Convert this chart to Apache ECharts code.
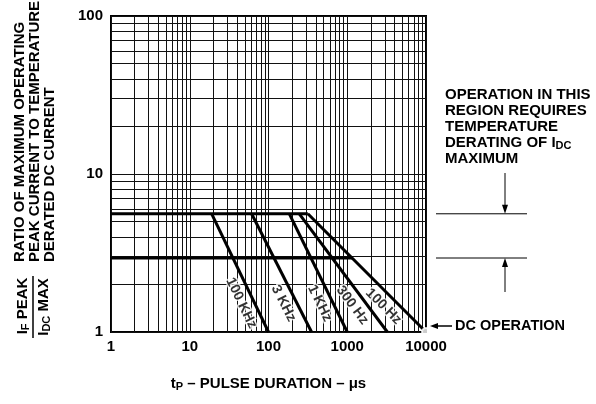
<!DOCTYPE html>
<html>
<head>
<meta charset="utf-8">
<script src="https://cdn.jsdelivr.net/npm/echarts@6/dist/echarts.min.js"></script>
<style>
  html, body { margin: 0; padding: 0; background: #fff; }
  #chart { width: 596px; height: 404px; }
</style>
</head>
<body>
<div id="chart"></div>
<script>
// peak / DC current ratio against pulse duration, one derating line per rep rate
const freqNames = ['100 KHz', '3 KHz', '1 KHz', '300 Hz', '100 Hz'];
const kneeTime = [19, 61, 184, 246, 316];       // us, line leaves the plateau
const endTime = [100, 352, 1000, 3230, 10000];  // us, ratio back down to 1
const ratioMax = 5.6;        // upper plateau
const ratioDerated = 2.94;   // lower plateau
const deratedEnd = 1150;     // where the lower plateau meets the 100 Hz line
const ratioMin = 1;
const xTicks = [1, 10, 100, 1000, 10000];
const yTicks = [1, 10, 100];

const FONT = 'Liberation Sans';

// log paper: every 1..9 step in each decade
function logGrid(ticks) {
  let out = [];
  ticks.forEach(function (t, i) {
    out.push(t);
    if (i < ticks.length - 1) {
      for (let k = 2; k < 10; k++) out.push(t * k);
    }
  });
  return out;
}
const gridLines = logGrid(xTicks).map(v => ({ xAxis: v }))
  .concat(logGrid(yTicks).map(v => ({ yAxis: v })));

const thick = { color: '#000', width: 3 };
let series = [
  {
    type: 'line', data: [], silent: true,
    markLine: {
      silent: true, animation: false, symbol: ['none', 'none'],
      label: { show: false },
      lineStyle: { color: '#111', width: 1, type: 'solid' },
      data: gridLines
    }
  },
  { type: 'line', symbol: 'none', lineStyle: thick, z: 5,
    data: [[xTicks[0], ratioMax], [Math.max.apply(null, kneeTime), ratioMax]] },
  { type: 'line', symbol: 'none', lineStyle: thick, z: 5,
    data: [[xTicks[0], ratioDerated], [deratedEnd, ratioDerated]] }
];
freqNames.forEach(function (n, i) {
  series.push({
    type: 'line', name: n, symbol: 'none', lineStyle: thick, z: 5,
    data: [[kneeTime[i], ratioMax], [endTime[i], ratioMin]]
  });
});
series.push({
  type: 'scatter', symbol: 'emptyCircle', symbolSize: 8, z: 8, clip: false,
  itemStyle: { color: '#fff', borderColor: '#000', borderWidth: 2 },
  data: [[endTime[endTime.length - 1], ratioMin]]
});
series.push({ id: 'labels', type: 'scatter', data: [] });

const chart = echarts.init(document.getElementById('chart'));
const option = {
  animation: false,
  textStyle: { fontFamily: FONT },
  grid: { left: 111, right: 170, top: 16, bottom: 72, show: true,
          borderColor: '#000', borderWidth: 2, backgroundColor: 'transparent' },
  xAxis: {
    type: 'log', logBase: 10, min: xTicks[0], max: xTicks[xTicks.length - 1],
    axisLine: { show: false }, axisTick: { show: false }, splitLine: { show: false },
    axisLabel: { color: '#000', fontWeight: 'bold', fontSize: 15, margin: 7,
                 fontFamily: FONT, formatter: v => String(Math.round(v)) },
    name: 't{sub|P} – PULSE DURATION – μs',
    nameLocation: 'middle', nameGap: 44,
    nameTextStyle: {
      color: '#000', fontWeight: 'bold', fontSize: 15, fontFamily: FONT,
      rich: { sub: { fontSize: 11, fontWeight: 'bold', fontFamily: FONT, color: '#000',
                     lineHeight: 10, padding: [6, 0, 0, 0] } }
    }
  },
  yAxis: {
    type: 'log', logBase: 10, min: yTicks[0], max: yTicks[yTicks.length - 1],
    axisLine: { show: false }, axisTick: { show: false }, splitLine: { show: false },
    axisLabel: { color: '#000', fontWeight: 'bold', fontSize: 15, margin: 8,
                 fontFamily: FONT, formatter: v => String(Math.round(v)) }
  },
  series: series
};
chart.setOption(option);

// rotated labels sitting just left of each derating line
const labelY = 298;
let labelData = [];
freqNames.forEach(function (n, i) {
  const p1 = chart.convertToPixel({ gridIndex: 0 }, [kneeTime[i], ratioMax]);
  const p2 = chart.convertToPixel({ gridIndex: 0 }, [endTime[i], ratioMin]);
  const a = Math.atan2(p2[1] - p1[1], p2[0] - p1[0]);
  const t = (labelY - p1[1]) / (p2[1] - p1[1]);
  const px = p1[0] + t * (p2[0] - p1[0]) - 12 * Math.sin(a);
  const py = labelY + 12 * Math.cos(a);
  labelData.push({
    name: n,
    value: chart.convertFromPixel({ gridIndex: 0 }, [px, py]),
    label: { rotate: -a * 180 / Math.PI }
  });
});

const yMax = chart.convertToPixel({ yAxisIndex: 0 }, ratioMax);
const yDer = chart.convertToPixel({ yAxisIndex: 0 }, ratioDerated);
const dc = chart.convertToPixel({ gridIndex: 0 }, [endTime[endTime.length - 1], ratioMin]);

const bold = (size) => ({ fill: '#000', font: 'bold ' + size + 'px "' + FONT + '"' });
const subRich = { sub: { fontSize: 11, fontWeight: 'bold', fontFamily: FONT, fill: '#000',
                         lineHeight: 10, padding: [6, 0, 0, 0] } };
const stroke1 = { stroke: '#000', lineWidth: 1 };

chart.setOption({
  series: [{
    id: 'labels', type: 'scatter', symbolSize: 1, z: 7,
    itemStyle: { color: 'rgba(0,0,0,0)' },
    label: { show: true, position: 'inside', formatter: '{b}', color: '#000',
             fontWeight: 'bold', fontSize: 14, fontFamily: FONT,
             textBorderColor: '#fff', textBorderWidth: 3 },
    data: labelData
  }],
  graphic: [
    // y axis title, reading bottom to top
    { type: 'text', x: 12, y: 262, rotation: Math.PI / 2,
      style: Object.assign(bold(15), {
        text: 'RATIO OF MAXIMUM OPERATING\nPEAK CURRENT TO TEMPERATURE\nDERATED DC CURRENT',
        align: 'left', verticalAlign: 'top', lineHeight: 15 }) },
    { type: 'text', x: 23, y: 306, rotation: Math.PI / 2,
      style: Object.assign(bold(15), { text: 'I{sub|F} PEAK', rich: subRich,
        align: 'center', verticalAlign: 'middle' }) },
    { type: 'line', shape: { x1: 33, y1: 276, x2: 33, y2: 338 },
      style: { stroke: '#000', lineWidth: 1.5 } },
    { type: 'text', x: 44, y: 307, rotation: Math.PI / 2,
      style: Object.assign(bold(15), { text: 'I{sub|DC} MAX', rich: subRich,
        align: 'center', verticalAlign: 'middle' }) },

    // derating region note
    { type: 'text', x: 445, y: 87,
      style: Object.assign(bold(15), {
        text: 'OPERATION IN THIS\nREGION REQUIRES\nTEMPERATURE\nDERATING OF I{sub|DC}\nMAXIMUM',
        rich: subRich, lineHeight: 16, align: 'left', verticalAlign: 'top' }) },
    { type: 'line', shape: { x1: 436, y1: yMax, x2: 527, y2: yMax }, style: stroke1 },
    { type: 'line', shape: { x1: 436, y1: yDer, x2: 527, y2: yDer }, style: stroke1 },
    { type: 'line', shape: { x1: 505, y1: 173, x2: 505, y2: yMax - 6 }, style: stroke1 },
    { type: 'polygon', shape: { points: [[502, yMax - 9], [508, yMax - 9], [505, yMax]] },
      style: { fill: '#000' } },
    { type: 'line', shape: { x1: 505, y1: 292, x2: 505, y2: yDer + 6 }, style: stroke1 },
    { type: 'polygon', shape: { points: [[502, yDer + 9], [508, yDer + 9], [505, yDer]] },
      style: { fill: '#000' } },

    // DC operation pointer
    { type: 'line', shape: { x1: dc[0] + 26, y1: dc[1] - 6, x2: dc[0] + 10, y2: dc[1] - 6 },
      style: { stroke: '#000', lineWidth: 1.5 } },
    { type: 'polygon',
      shape: { points: [[dc[0] + 12, dc[1] - 9], [dc[0] + 12, dc[1] - 3], [dc[0] + 4, dc[1] - 6]] },
      style: { fill: '#000' } },
    { type: 'text', x: dc[0] + 29, y: dc[1] - 6,
      style: Object.assign(bold(14.5), { text: 'DC OPERATION', align: 'left', verticalAlign: 'middle' }) }
  ]
});
</script>
</body>
</html>
